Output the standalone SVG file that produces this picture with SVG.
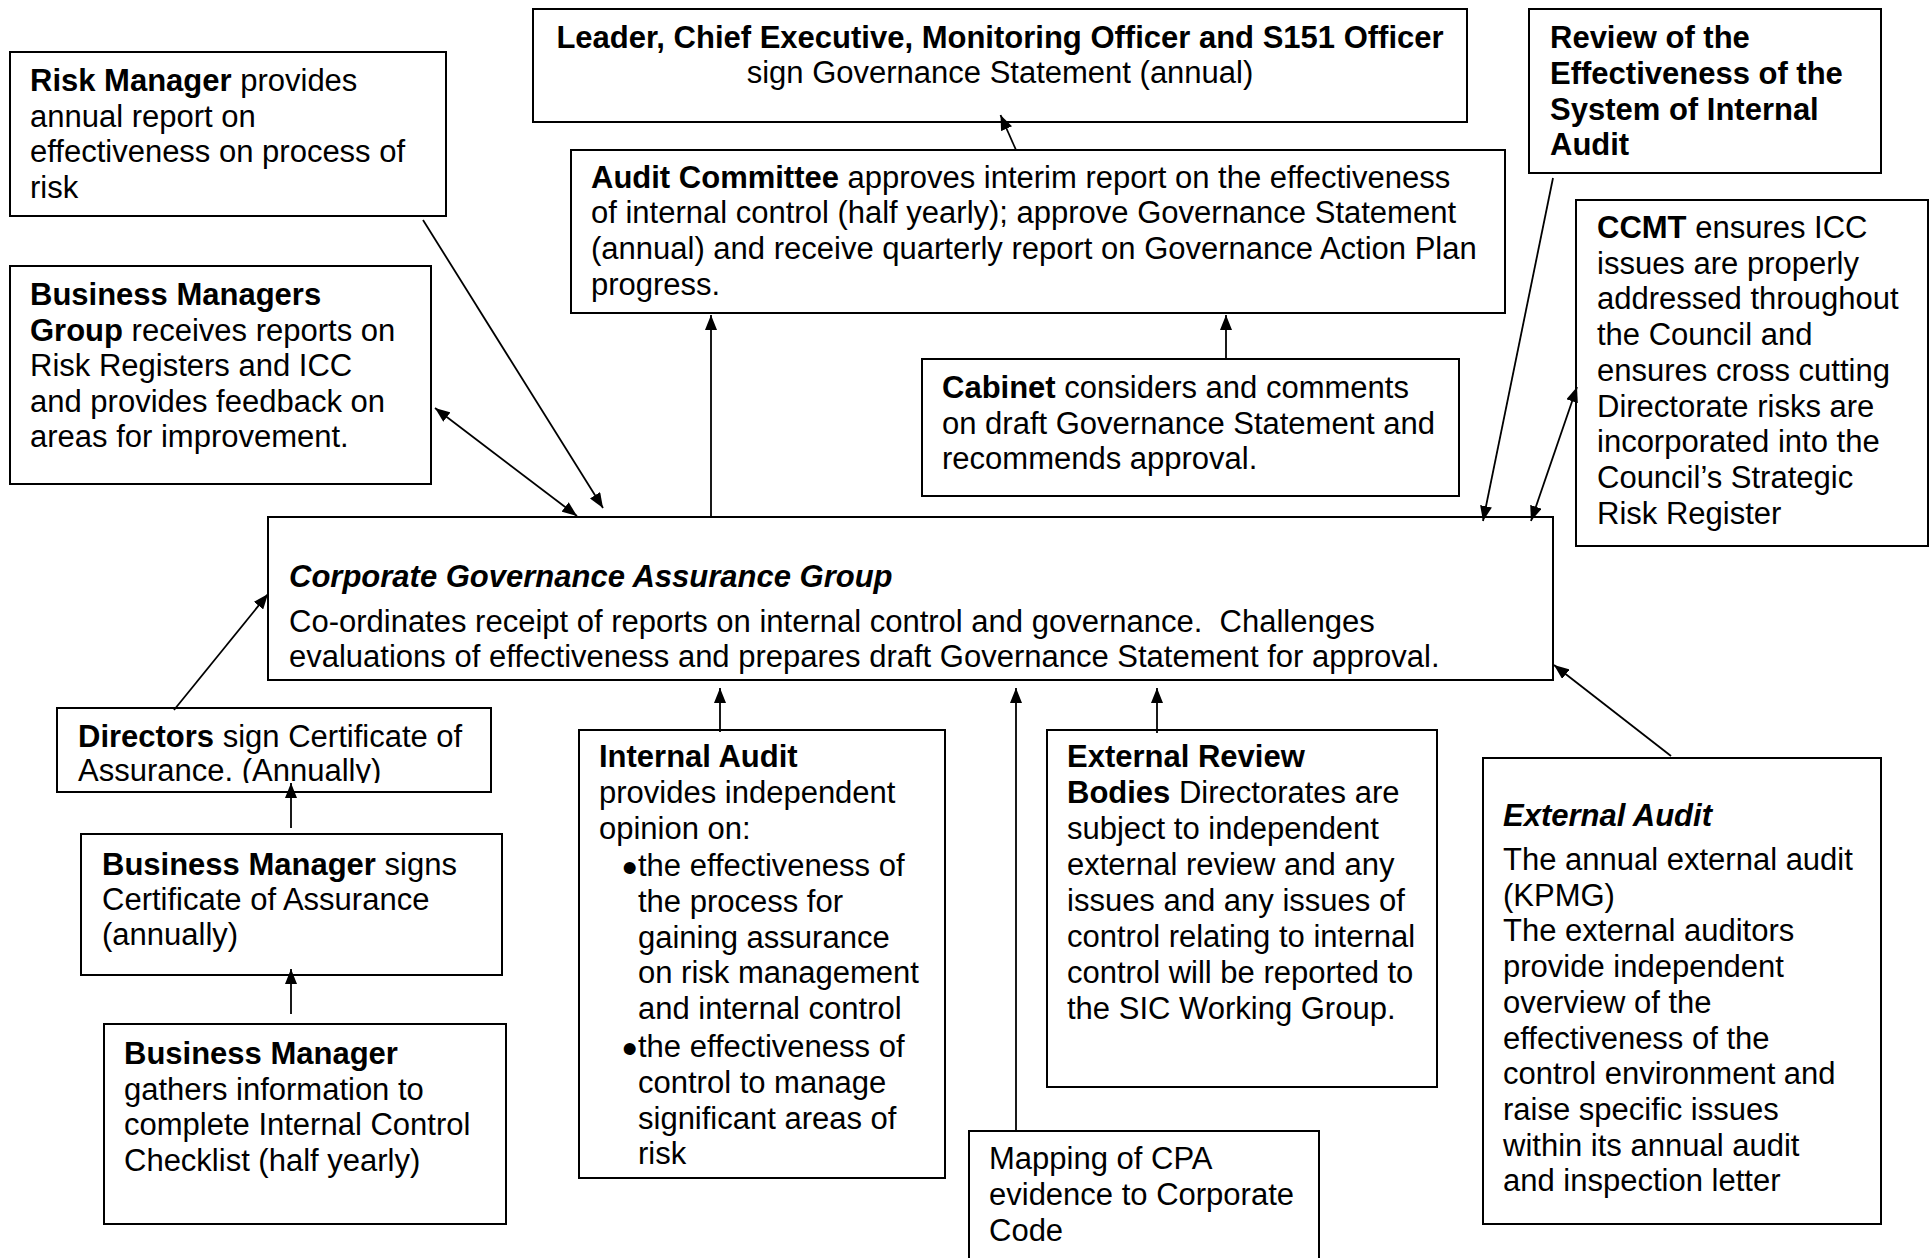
<svg xmlns="http://www.w3.org/2000/svg" width="1932" height="1258" viewBox="0 0 1932 1258">
<style>
  .box{fill:#fff;stroke:#000;stroke-width:2}
  text{font-family:"Liberation Sans",Arial,Helvetica,sans-serif;font-size:31px;fill:#000}
  .b{font-weight:bold}
  .bi{font-weight:bold;font-style:italic}
  .bullet{font-size:44px}
  #connectors line{stroke:#000;stroke-width:1.8;fill:none}
  .one{marker-end:url(#arrow)}
  .two{marker-start:url(#arrow);marker-end:url(#arrow)}
</style>
<defs>
  <marker id="arrow" viewBox="0 0 15 12" refX="15" refY="6" markerWidth="15" markerHeight="12" markerUnits="userSpaceOnUse" orient="auto-start-reverse">
    <path d="M0,0 L15,6 L0,12 z" fill="#000"/>
  </marker>
  <clipPath id="clipDirectors"><rect x="57" y="708" width="434" height="75"/></clipPath>
</defs>
<rect width="1932" height="1258" fill="#fff"/>

<g id="risk-manager">
  <rect class="box" x="10" y="52" width="436" height="164"/>
  <text x="30" y="91"><tspan class="b">Risk Manager</tspan> provides</text>
  <text x="30" y="126.5">annual report on</text>
  <text x="30" y="162">effectiveness on process of</text>
  <text x="30" y="197.5">risk</text>
</g>

<g id="business-managers-group">
  <rect class="box" x="10" y="266" width="421" height="218"/>
  <text x="30" y="305" class="b">Business Managers</text>
  <text x="30" y="340.5"><tspan class="b">Group</tspan> receives reports on</text>
  <text x="30" y="376">Risk Registers and ICC</text>
  <text x="30" y="411.5">and provides feedback on</text>
  <text x="30" y="447">areas for improvement.</text>
</g>

<g id="leader">
  <rect class="box" x="533" y="9" width="934" height="113"/>
  <text x="1000" y="47.5" text-anchor="middle" class="b">Leader, Chief Executive, Monitoring Officer and S151 Officer</text>
  <text x="1000" y="83" text-anchor="middle">sign Governance Statement (annual)</text>
</g>

<g id="audit-committee">
  <rect class="box" x="571" y="150" width="934" height="163"/>
  <text x="591" y="187.5"><tspan class="b">Audit Committee</tspan> approves interim report on the effectiveness</text>
  <text x="591" y="223">of internal control (half yearly); approve Governance Statement</text>
  <text x="591" y="259">(annual) and receive quarterly report on Governance Action Plan</text>
  <text x="591" y="294.5">progress.</text>
</g>

<g id="review">
  <rect class="box" x="1529" y="9" width="352" height="164"/>
  <text x="1550" y="48" class="b">Review of the</text>
  <text x="1550" y="84" class="b">Effectiveness of the</text>
  <text x="1550" y="119.5" class="b">System of Internal</text>
  <text x="1550" y="155" class="b">Audit</text>
</g>

<g id="ccmt">
  <rect class="box" x="1576" y="200" width="352" height="346"/>
  <text x="1597" y="238"><tspan class="b">CCMT</tspan> ensures ICC</text>
  <text x="1597" y="273.7">issues are properly</text>
  <text x="1597" y="309.4">addressed throughout</text>
  <text x="1597" y="345.1">the Council and</text>
  <text x="1597" y="380.8">ensures cross cutting</text>
  <text x="1597" y="416.5">Directorate risks are</text>
  <text x="1597" y="452.2">incorporated into the</text>
  <text x="1597" y="487.9">Council’s Strategic</text>
  <text x="1597" y="523.6">Risk Register</text>
</g>

<g id="cabinet">
  <rect class="box" x="922" y="359" width="537" height="137"/>
  <text x="942" y="398"><tspan class="b">Cabinet</tspan> considers and comments</text>
  <text x="942" y="433.5">on draft Governance Statement and</text>
  <text x="942" y="469">recommends approval.</text>
</g>

<g id="cgag">
  <rect class="box" x="268" y="517" width="1285" height="163"/>
  <text x="289" y="587" class="bi">Corporate Governance Assurance Group</text>
  <text x="289" y="631.5" xml:space="preserve">Co-ordinates receipt of reports on internal control and governance.  Challenges</text>
  <text x="289" y="667">evaluations of effectiveness and prepares draft Governance Statement for approval.</text>
</g>

<g id="directors">
  <rect class="box" x="57" y="708" width="434" height="84"/>
  <g clip-path="url(#clipDirectors)">
    <text x="78" y="746.5"><tspan class="b">Directors</tspan> sign Certificate of</text>
    <text x="78" y="781">Assurance. (Annually)</text>
  </g>
</g>

<g id="bm-signs">
  <rect class="box" x="81" y="834" width="421" height="141"/>
  <text x="102" y="874.5"><tspan class="b">Business Manager</tspan> signs</text>
  <text x="102" y="910">Certificate of Assurance</text>
  <text x="102" y="945">(annually)</text>
</g>

<g id="bm-gathers">
  <rect class="box" x="104" y="1024" width="402" height="200"/>
  <text x="124" y="1064" class="b">Business Manager</text>
  <text x="124" y="1099.5">gathers information to</text>
  <text x="124" y="1135">complete Internal Control</text>
  <text x="124" y="1170.5">Checklist (half yearly)</text>
</g>

<g id="internal-audit">
  <rect class="box" x="579" y="730" width="366" height="448"/>
  <text x="599" y="767" class="b">Internal Audit</text>
  <text x="599" y="803">provides independent</text>
  <text x="599" y="838.5">opinion on:</text>
  <text x="622" y="882.5" class="bullet">•</text>
  <text x="638" y="876">the effectiveness of</text>
  <text x="638" y="912">the process for</text>
  <text x="638" y="947.5">gaining assurance</text>
  <text x="638" y="983">on risk management</text>
  <text x="638" y="1019">and internal control</text>
  <text x="622" y="1063.5" class="bullet">•</text>
  <text x="638" y="1057">the effectiveness of</text>
  <text x="638" y="1093">control to manage</text>
  <text x="638" y="1128.5">significant areas of</text>
  <text x="638" y="1164">risk</text>
</g>

<g id="mapping">
  <rect class="box" x="969" y="1131" width="350" height="140"/>
  <text x="989" y="1169">Mapping of CPA</text>
  <text x="989" y="1205">evidence to Corporate</text>
  <text x="989" y="1241">Code</text>
</g>

<g id="external-review">
  <rect class="box" x="1047" y="730" width="390" height="357"/>
  <text x="1067" y="767" class="b">External Review</text>
  <text x="1067" y="803"><tspan class="b">Bodies</tspan> Directorates are</text>
  <text x="1067" y="838.5">subject to independent</text>
  <text x="1067" y="874.5">external review and any</text>
  <text x="1067" y="910.5">issues and any issues of</text>
  <text x="1067" y="946.5">control relating to internal</text>
  <text x="1067" y="982.5">control will be reported to</text>
  <text x="1067" y="1018.5">the SIC Working Group.</text>
</g>

<g id="external-audit">
  <rect class="box" x="1483" y="758" width="398" height="466"/>
  <text x="1503" y="826" class="bi">External Audit</text>
  <text x="1503" y="870">The annual external audit</text>
  <text x="1503" y="905.7">(KPMG)</text>
  <text x="1503" y="941.4">The external auditors</text>
  <text x="1503" y="977.1">provide independent</text>
  <text x="1503" y="1012.8">overview of the</text>
  <text x="1503" y="1048.5">effectiveness of the</text>
  <text x="1503" y="1084.2">control environment and</text>
  <text x="1503" y="1119.9">raise specific issues</text>
  <text x="1503" y="1155.6">within its annual audit</text>
  <text x="1503" y="1191.3">and inspection letter</text>
</g>

<g id="connectors">
  <line class="one" x1="1016" y1="150" x2="1000.5" y2="115"/>
  <line class="one" x1="711" y1="517" x2="711" y2="315"/>
  <line class="one" x1="1226" y1="359" x2="1226" y2="315"/>
  <line class="one" x1="423" y1="220" x2="603" y2="508"/>
  <line class="two" x1="435" y1="408" x2="577" y2="516"/>
  <line class="one" x1="1553" y1="178" x2="1483" y2="521"/>
  <line class="two" x1="1577" y1="387" x2="1531" y2="521"/>
  <line class="one" x1="174" y1="710" x2="268" y2="594"/>
  <line class="one" x1="291" y1="828" x2="291" y2="783"/>
  <line class="one" x1="291" y1="1014" x2="291" y2="969"/>
  <line class="one" x1="720" y1="732" x2="720" y2="688"/>
  <line class="one" x1="1016" y1="1131" x2="1016" y2="688"/>
  <line class="one" x1="1157" y1="733" x2="1157" y2="688"/>
  <line class="one" x1="1671" y1="756" x2="1554" y2="665"/>
</g>
</svg>
